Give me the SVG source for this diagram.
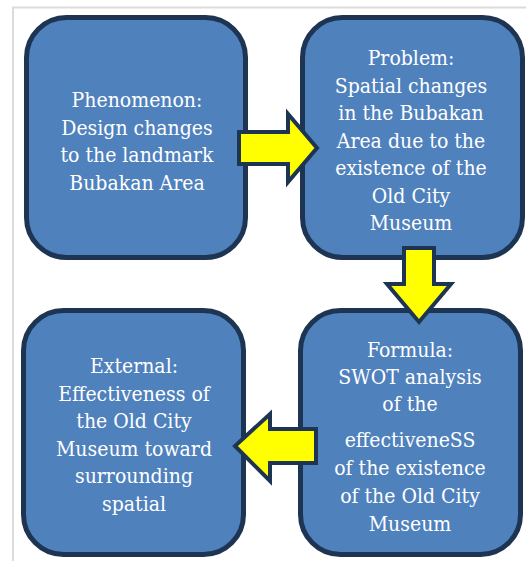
<svg xmlns="http://www.w3.org/2000/svg" width="526" height="561" viewBox="0 0 526 561">
<style>
.box{fill:#4f81bd;stroke:#1d3552;stroke-width:5}
.arrow{fill:#ffff00;stroke:#1d3552;stroke-width:4;stroke-linejoin:miter}
.t{font-family:'DejaVu Serif Condensed','Liberation Serif',serif;font-size:21px;fill:#ffffff;text-anchor:middle}
</style>
<rect x="0" y="0" width="526" height="561" fill="#ffffff"/>
<path d="M13 561 V7.5 H526" fill="none" stroke="#dcdcdc" stroke-width="2"/>
<g id="phenomenon">
<rect class="box" x="26.5" y="17.5" width="219" height="240" rx="40"/>
<text class="t" x="137" y="107">Phenomenon:</text>
<text class="t" x="137" y="134.5">Design changes</text>
<text class="t" x="137" y="162">to the landmark</text>
<text class="t" x="137" y="189.5">Bubakan Area</text>
</g>
<g id="problem">
<rect class="box" x="302.5" y="17.5" width="220" height="240" rx="40"/>
<text class="t" x="411" y="65">Problem:</text>
<text class="t" x="411" y="92.5">Spatial changes</text>
<text class="t" x="411" y="120">in the Bubakan</text>
<text class="t" x="411" y="147.5">Area due to the</text>
<text class="t" x="411" y="175">existence of the</text>
<text class="t" x="411" y="202.5">Old City</text>
<text class="t" x="411" y="230">Museum</text>
</g>
<g id="external">
<rect class="box" x="23.5" y="310.5" width="220" height="244" rx="40"/>
<text class="t" x="134" y="373">External:</text>
<text class="t" x="134" y="400.5">Effectiveness of</text>
<text class="t" x="134" y="428">the Old City</text>
<text class="t" x="134" y="455.5">Museum toward</text>
<text class="t" x="134" y="483">surrounding</text>
<text class="t" x="134" y="510.5">spatial</text>
</g>
<g id="formula">
<rect class="box" x="300.5" y="310.5" width="220" height="244" rx="40"/>
<text class="t" x="410" y="356.5">Formula:</text>
<text class="t" x="410" y="384">SWOT analysis</text>
<text class="t" x="410" y="411">of the</text>
<text class="t" x="410" y="446.5">effectiveneSS</text>
<text class="t" x="410" y="475">of the existence</text>
<text class="t" x="410" y="503">of the Old City</text>
<text class="t" x="410" y="530.5">Museum</text>
</g>
<g id="connectors">
<polygon class="arrow" points="239,132 288,132 288,114 317,148 288,182 288,164 239,164"/>
<polygon class="arrow" points="404,248 434,248 434,284 451,284 419,322 387,284 404,284"/>
<polygon class="arrow" points="316,429 270,429 270,414 235,446 270,481 270,463 316,463"/>
</g>
</svg>
